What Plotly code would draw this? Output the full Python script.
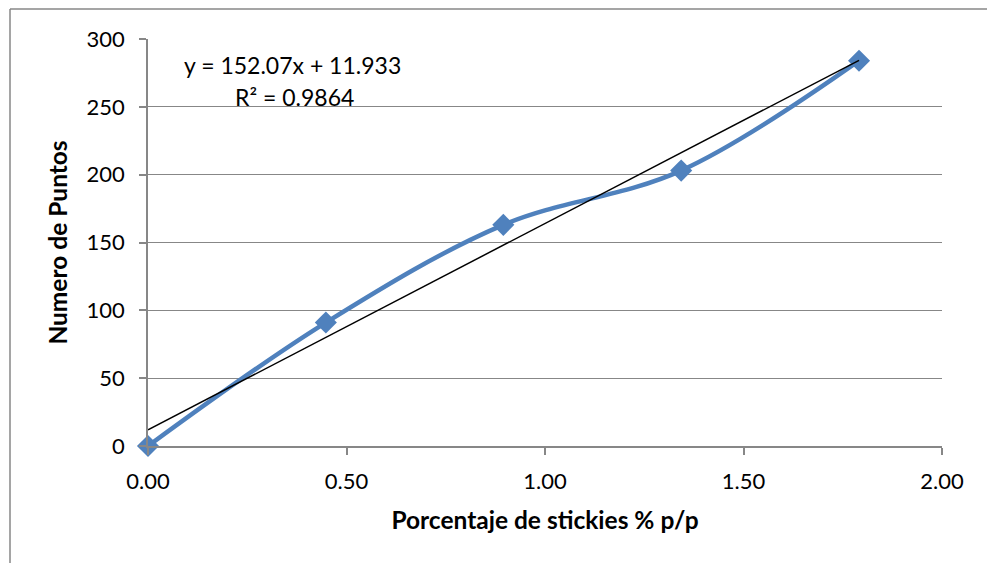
import plotly.graph_objects as go

# Data
x_vals = [0.0, 0.448, 0.895, 1.343, 1.791]
y_vals = [0, 91, 163, 203, 284]
slope = 152.07
intercept = 11.933
eq_text = "y = 152.07x + 11.933"
r2_text = "R² = 0.9864"
x_ticks = [0, 0.5, 1.0, 1.5, 2.0]
x_tick_text = ["0.00", "0.50", "1.00", "1.50", "2.00"]
y_ticks = [0, 50, 100, 150, 200, 250, 300]
x_title = "Porcentaje de stickies % p/p"
y_title = "Numero de Puntos"

BLUE = "#4F81BD"
GRID = "#878787"
FONT = "Lato"

fig = go.Figure()

fig.add_trace(go.Scatter(
    x=x_vals, y=y_vals, mode="lines+markers",
    line=dict(color=BLUE, width=4.5, shape="spline", smoothing=1),
    marker=dict(symbol="diamond", size=17, color=BLUE),
    showlegend=False, hoverinfo="skip", cliponaxis=False,
))

trend_x = [0.0, max(x_vals)]
trend_y = [slope * v + intercept for v in trend_x]
fig.add_trace(go.Scatter(
    x=trend_x, y=trend_y, mode="lines",
    line=dict(color="black", width=1.5),
    showlegend=False, hoverinfo="skip",
))

fig.add_annotation(x=0.365, y=281, xref="x", yref="y", text=eq_text,
                   showarrow=False, font=dict(family=FONT, size=23, color="black"))
fig.add_annotation(x=0.368, y=257, xref="x", yref="y", text=r2_text,
                   showarrow=False, font=dict(family=FONT, size=23, color="black"))

# outer chart frame (only top and left visible in reference)
fig.add_shape(type="line", xref="paper", yref="paper",
              x0=-0.1738, x1=1.2, y0=1.0737, y1=1.0737,
              line=dict(color=GRID, width=1.5))
fig.add_shape(type="line", xref="paper", yref="paper",
              x0=-0.1738, x1=-0.1738, y0=-0.3, y1=1.0737,
              line=dict(color=GRID, width=1.5))

fig.update_xaxes(
    range=[0, 2], tickvals=x_ticks, ticktext=x_tick_text,
    showgrid=False, zeroline=False,
    showline=True, linecolor=GRID, linewidth=1.5,
    ticks="outside", ticklen=7, tickcolor=GRID, tickwidth=1.5,
    ticklabelstandoff=8,
    tickfont=dict(family=FONT, size=22, color="black"),
    title=dict(text="<b>" + x_title + "</b>", font=dict(family=FONT, size=24.5, color="black"), standoff=19),
)
fig.update_yaxes(
    range=[0, 300], tickvals=y_ticks,
    showgrid=True, gridcolor=GRID, gridwidth=1.2, zeroline=False,
    showline=True, linecolor=GRID, linewidth=1.5,
    ticks="outside", ticklen=7, tickcolor=GRID, tickwidth=1.5,
    ticklabelstandoff=10,
    tickfont=dict(family=FONT, size=22, color="black"),
    title=dict(text="<b>" + y_title + "</b>", font=dict(family=FONT, size=24.5, color="black"), standoff=12),
)

fig.update_layout(
    width=987, height=563,
    margin=dict(l=148, r=45, t=39, b=117),
    paper_bgcolor="white", plot_bgcolor="white",
    font=dict(family=FONT),
)

fig.write_html("out.html")
